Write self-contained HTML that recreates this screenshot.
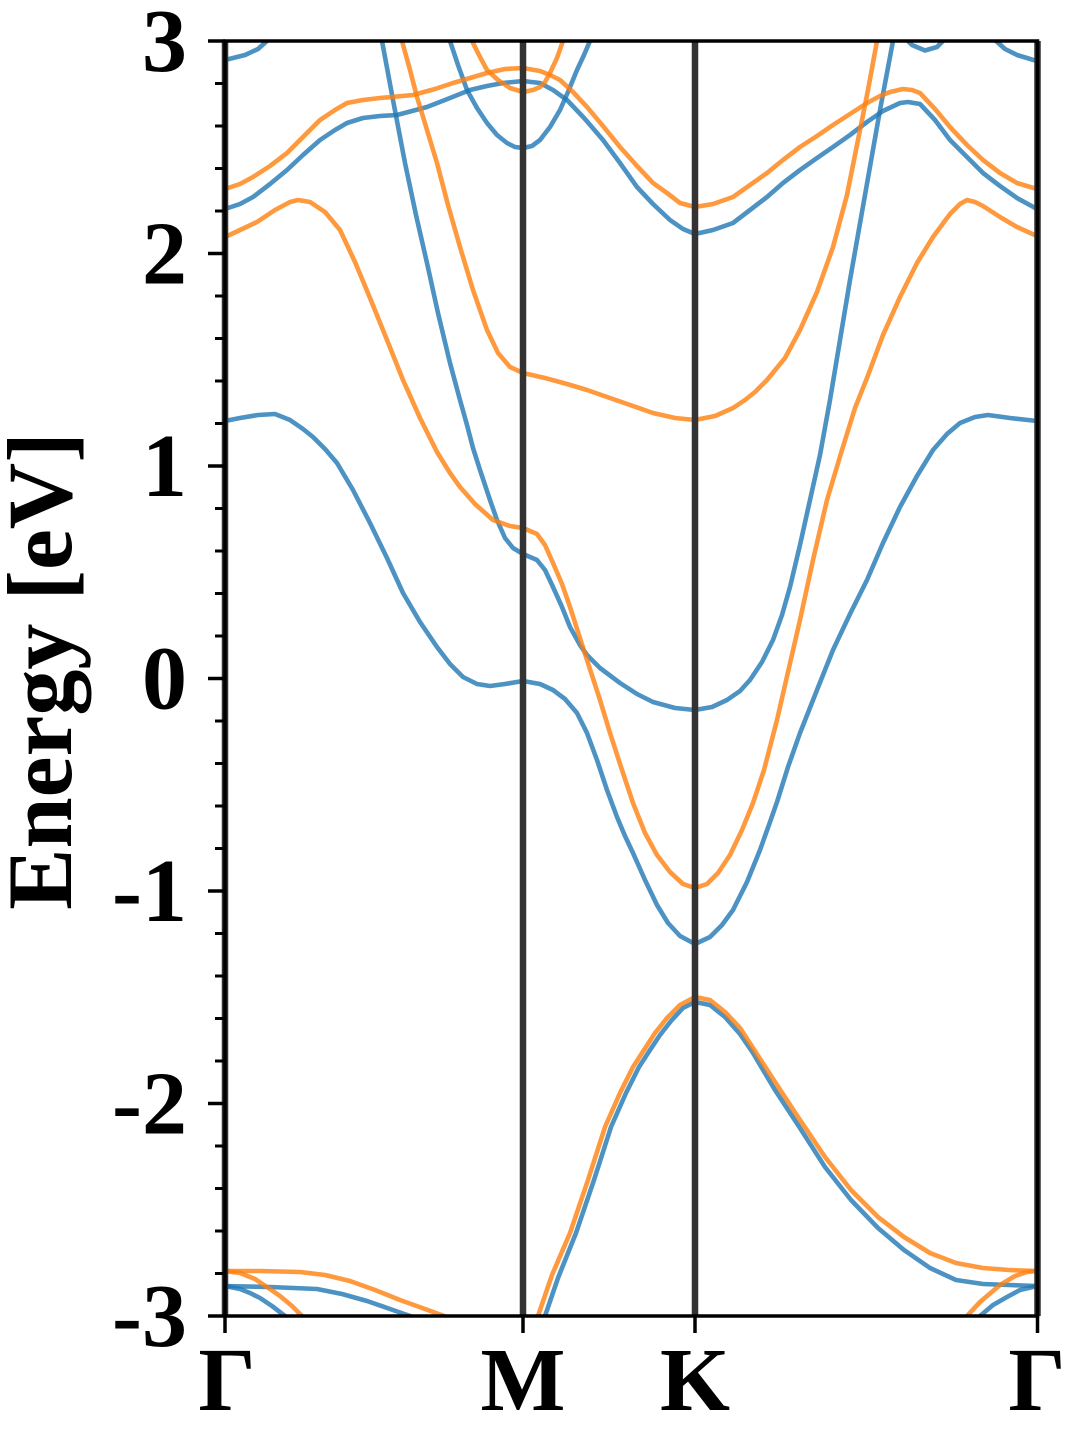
<!DOCTYPE html>
<html>
<head>
<meta charset="utf-8">
<style>
html,body{margin:0;padding:0;background:#fff;}
svg{display:block;}
text{font-family:"Liberation Serif","DejaVu Serif",serif;font-weight:bold;fill:#000;}
</style>
</head>
<body>
<svg width="1080" height="1440" viewBox="0 0 1080 1440" xmlns="http://www.w3.org/2000/svg">
<defs>
<clipPath id="pc"><rect x="225" y="41" width="812.5" height="1275"/></clipPath>
</defs>
<rect x="0" y="0" width="1080" height="1440" fill="#fff"/>

<g clip-path="url(#pc)" fill="none" stroke-width="4.6" stroke-linejoin="round" stroke-linecap="round">
<g stroke="#1f77b4" stroke-opacity="0.8">
<polyline points="225,60 245,55 258,49 268,40 275,33"/>
<polyline points="1037,61 1017,55 1005,49 995,40 990,33"/>
<polyline points="898,30 905,38 912,45 925,50.5 937,47 946,38 952,30"/>
<polyline points="225,209 240,204 253,197 270,184 287,170 303,155 320,140 335,130 347,123 363,118 380,116 397,115 412,111 427,107 450,98 470,90 487,86 503,83 523,81 540,83 553,90 567,100 585,119 603,140 620,163 637,187 653,204 670,220 683,229 695,234 713,230 733,223 750,210 767,197 783,183 800,170 817,158 833,147 850,135 867,122 883,111 900,103 908,102 920,104 935,120 950,140 967,157 983,173 1000,186 1017,198 1037,209"/>
<polyline points="443,15 450,41 458,65 467,90 477,108 487,123 497,135 507,143 515,147 523,148 532,146 540,140 550,127 560,110 568,92 577,70 584,55 590,41 597,20"/>
<polyline points="376,12 382,41 393,100 405,163 416,215 427,263 438,313 450,363 460,400 467,425 473,448 480,470 490,500 497,520 505,538 513,548 523,554 537,560 545,570 553,587 562,607 570,627 580,645 587,655 600,668 620,683 637,694 653,702 675,708 695,710 712,707 727,700 740,691 750,680 762,662 773,640 782,615 790,587 800,545 810,500 820,455 830,400 840,340 850,280 865,195 880,110 893,41 898,12"/>
<polyline points="225,421 240,418 258,415 275,414 290,420 303,429 313,437 325,449 337,463 353,490 370,523 387,558 403,593 420,622 437,647 450,664 463,677 477,684 490,686 505,684 523,681 540,684 553,690 565,699 577,713 587,733 597,760 607,790 617,817 625,836 633,853 645,880 657,905 668,923 680,936 695,944 710,937 722,925 733,910 747,882 760,850 770,822 777,802 788,767 800,733 817,690 833,650 850,614 867,580 883,543 900,507 917,476 933,450 947,434 960,423 975,417 988,415 1010,418 1037,421"/>
<polyline points="535,1345 545,1316 558,1278 576,1233 594,1180 611,1127 626,1093 639,1067 650,1050 660,1035 671,1021 683,1008 695,1002 710,1005 725,1017 740,1034 753,1053 775,1090 798,1125 825,1167 851,1200 878,1228 904,1250 930,1268 956,1280 983,1284 1009,1285 1037,1286"/>
<polyline points="225,1286 270,1287 317,1289 342,1294 367,1301 390,1309 413,1317 425,1322"/>
<polyline points="225,1286 240,1289 250,1293 260,1298 272,1306 285,1316 292,1322"/>
<polyline points="970,1330 980,1316 993,1305 1007,1297 1020,1290 1037,1286"/>
</g>
<g stroke="#ff7f0e" stroke-opacity="0.8">
<polyline points="225,189 240,184 253,177 270,166 287,153 303,137 320,120 335,110 347,103 363,100 380,98 413,95 435,89 453,83 470,78 487,73 505,69 523,68 540,71 550,75 560,80 573,92 587,107 603,126 620,147 637,166 653,183 667,193 680,203 695,207 713,204 733,197 750,185 767,173 783,160 800,147 817,136 833,125 850,114 867,103 880,96 890,92 903,89 912,90 920,93 935,109 950,127 967,145 983,160 1000,173 1017,183 1037,189"/>
<polyline points="465,15 472,41 480,57 487,70 498,80 510,88 523,92 533,90 540,87 545,82 550,73 557,58 563,41 568,25"/>
<polyline points="225,237 240,230 257,222 275,210 290,202 298,200 310,202 325,212 340,230 355,262 370,298 387,340 403,380 420,418 437,452 450,473 460,487 475,504 493,520 510,526 523,528 537,534 545,545 553,563 562,584 570,607 587,660 600,700 610,733 622,770 633,803 645,833 657,855 670,872 683,884 695,888 707,884 718,873 730,855 742,830 753,803 764,770 777,720 788,672 800,620 813,560 827,500 842,450 855,408 867,378 883,335 900,297 917,263 933,237 950,214 960,204 967,200 975,202 983,206 1000,217 1017,227 1037,236"/>
<polyline points="395,12 402,41 410,70 417,97 427,130 437,163 448,205 460,247 473,290 487,330 498,353 510,367 523,373 545,378 567,384 587,390 610,398 633,406 653,413 675,418 695,420 715,416 733,408 745,400 755,392 767,380 785,358 800,330 817,292 833,247 847,195 860,130 868,90 877,41 882,12"/>
<polyline points="528,1345 538,1316 552,1275 570,1233 588,1180 605,1127 620,1093 633,1067 644,1050 655,1033 667,1018 680,1005 695,997 710,1000 725,1012 740,1028 753,1048 775,1082 798,1117 825,1157 851,1190 878,1217 904,1237 930,1253 956,1263 983,1268 1009,1270 1037,1271"/>
<polyline points="225,1271 260,1271 300,1272 325,1275 350,1281 375,1290 400,1300 425,1309 447,1317 460,1322"/>
<polyline points="225,1271 240,1273 255,1279 267,1287 280,1296 292,1306 302,1316 310,1325"/>
<polyline points="955,1330 967,1316 980,1302 1000,1285 1015,1276 1027,1272 1037,1271"/>
</g>
</g>

<g stroke="#333" stroke-width="6.5">
<line x1="225" y1="41" x2="225" y2="1316"/>
<line x1="523" y1="41" x2="523" y2="1316"/>
<line x1="695" y1="41" x2="695" y2="1316"/>
<line x1="1037.5" y1="41" x2="1037.5" y2="1316"/>
</g>

<rect x="225" y="41" width="812.5" height="1275" fill="none" stroke="#000" stroke-width="3.5"/>

<g stroke="#000" stroke-width="3.5">
<line x1="208" y1="41" x2="225" y2="41"/>
<line x1="208" y1="253.5" x2="225" y2="253.5"/>
<line x1="208" y1="466" x2="225" y2="466"/>
<line x1="208" y1="678.5" x2="225" y2="678.5"/>
<line x1="208" y1="891" x2="225" y2="891"/>
<line x1="208" y1="1103.5" x2="225" y2="1103.5"/>
<line x1="208" y1="1316" x2="225" y2="1316"/>
</g>
<g stroke="#000" stroke-width="3">
<line x1="215" y1="83.5" x2="225" y2="83.5"/>
<line x1="215" y1="126" x2="225" y2="126"/>
<line x1="215" y1="168.5" x2="225" y2="168.5"/>
<line x1="215" y1="211" x2="225" y2="211"/>
<line x1="215" y1="296" x2="225" y2="296"/>
<line x1="215" y1="338.5" x2="225" y2="338.5"/>
<line x1="215" y1="381" x2="225" y2="381"/>
<line x1="215" y1="423.5" x2="225" y2="423.5"/>
<line x1="215" y1="508.5" x2="225" y2="508.5"/>
<line x1="215" y1="551" x2="225" y2="551"/>
<line x1="215" y1="593.5" x2="225" y2="593.5"/>
<line x1="215" y1="636" x2="225" y2="636"/>
<line x1="215" y1="721" x2="225" y2="721"/>
<line x1="215" y1="763.5" x2="225" y2="763.5"/>
<line x1="215" y1="806" x2="225" y2="806"/>
<line x1="215" y1="848.5" x2="225" y2="848.5"/>
<line x1="215" y1="933.5" x2="225" y2="933.5"/>
<line x1="215" y1="976" x2="225" y2="976"/>
<line x1="215" y1="1018.5" x2="225" y2="1018.5"/>
<line x1="215" y1="1061" x2="225" y2="1061"/>
<line x1="215" y1="1146" x2="225" y2="1146"/>
<line x1="215" y1="1188.5" x2="225" y2="1188.5"/>
<line x1="215" y1="1231" x2="225" y2="1231"/>
<line x1="215" y1="1273.5" x2="225" y2="1273.5"/>
</g>
<g stroke="#000" stroke-width="3.5">
<line x1="225" y1="1316" x2="225" y2="1333"/>
<line x1="523" y1="1316" x2="523" y2="1333"/>
<line x1="695" y1="1316" x2="695" y2="1333"/>
<line x1="1037.5" y1="1316" x2="1037.5" y2="1333"/>
</g>

<g font-size="90" text-anchor="end">
<text x="187" y="71">3</text>
<text x="187" y="283.5">2</text>
<text x="187" y="496">1</text>
<text x="187" y="708.5">0</text>
<text x="187" y="921">-1</text>
<text x="187" y="1133.5">-2</text>
<text x="187" y="1346">-3</text>
</g>

<g font-size="90" text-anchor="middle">
<text x="227" y="1410">Γ</text>
<text x="523" y="1410">M</text>
<text x="695" y="1410">K</text>
<text x="1037" y="1410">Γ</text>
</g>

<text font-size="92" text-anchor="middle" transform="translate(71,671) rotate(-90)">Energy [eV]</text>
</svg>
</body>
</html>
